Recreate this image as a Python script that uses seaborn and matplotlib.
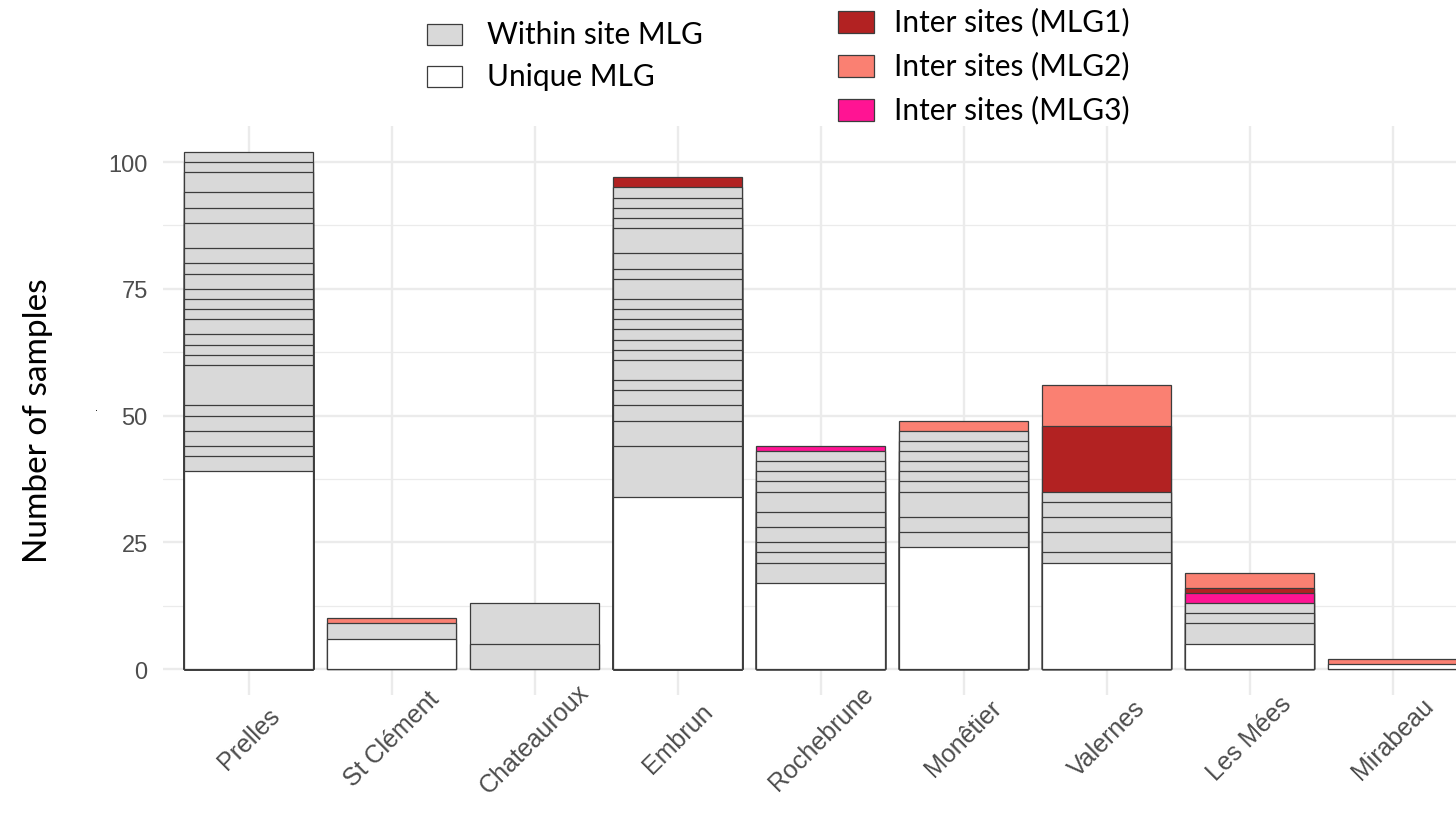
import matplotlib
matplotlib.use("Agg")
import matplotlib.pyplot as plt
from matplotlib.patches import Rectangle
import seaborn as sns
import pandas as pd
import numpy as np

# ---------------- data ----------------
sites = ["Prelles", "St Clément", "Chateauroux", "Embrun", "Rochebrune",
         "Monêtier", "Valernes", "Les Mées", "Mirabeau"]
unique_mlg = [39, 6, 0, 34, 17, 24, 21, 5, 1]
within_prelles = [3, 2, 3, 3, 2, 8, 2, 2, 2, 3, 2, 2, 2, 3, 2, 3, 5, 3, 3, 4, 2, 2]
within_st_clement = [3]
within_chateauroux = [5, 8]
within_embrun = [10, 5, 3, 3, 2, 4, 2, 2, 2, 2, 2, 2, 4, 2, 3, 5, 2, 2, 2, 2]
within_rochebrune = [4, 2, 2, 3, 3, 4, 2, 2, 2, 2]
within_monetier = [3, 3, 5, 2, 2, 2, 2, 2, 2]
within_valernes = [2, 4, 3, 3, 2]
within_les_mees = [4, 2, 2]
within_mirabeau = []
inter_mlg3 = [0, 0, 0, 0, 1, 0, 0, 2, 0]
inter_mlg1 = [0, 0, 0, 2, 0, 0, 13, 1, 0]
inter_mlg2 = [0, 1, 0, 0, 0, 2, 8, 3, 1]

within_lists = [within_prelles, within_st_clement, within_chateauroux, within_embrun,
                within_rochebrune, within_monetier, within_valernes, within_les_mees,
                within_mirabeau]

fill_order = ["Unique MLG", "Within site MLG", "Inter sites (MLG1)",
              "Inter sites (MLG2)", "Inter sites (MLG3)"]
palette = {"Unique MLG": "#FFFFFF", "Within site MLG": "#D9D9D9",
           "Inter sites (MLG1)": "#B22222", "Inter sites (MLG2)": "#FA8072",
           "Inter sites (MLG3)": "#FF1493"}

rows = []
for i, s in enumerate(sites):
    segs = [("Unique MLG", unique_mlg[i])]
    segs += [("Within site MLG", w) for w in within_lists[i]]
    segs += [("Inter sites (MLG3)", inter_mlg3[i]),
             ("Inter sites (MLG1)", inter_mlg1[i]),
             ("Inter sites (MLG2)", inter_mlg2[i])]
    top = 0
    k = 0
    for f, c in segs:
        if c <= 0:
            continue
        top += c
        rows.append({"site": s, "layer": k, "fill": f, "top": top})
        k += 1
df = pd.DataFrame(rows)

# ---------------- figure ----------------
sns.set_theme(style="whitegrid")
W, H = 1456, 829
fig = plt.figure(figsize=(W / 100, H / 100), dpi=100)
ax = fig.add_axes([163 / W, (H - 696) / H, (W - 163) / W, (696 - 127) / H])

for k in sorted(df["layer"].unique(), reverse=True):
    sub = df[df["layer"] == k]
    sns.barplot(data=sub, x="site", y="top", hue="fill", order=sites,
                hue_order=fill_order, palette=palette, dodge=False, width=0.9,
                saturation=1, errorbar=None, edgecolor="#3c3c3c", linewidth=0.9,
                legend=False, ax=ax, zorder=3)

ax.set_xlim(-0.6, 8.442)
ax.set_ylim(-5.1, 107.1)
ax.set_yticks([0, 25, 50, 75, 100])
ax.set_yticks([12.5, 37.5, 62.5, 87.5], minor=True)
ax.set_yticklabels(["0", "25", "50", "75", "100"], fontsize=17, color="#4D4D4D",
                   family="Liberation Sans")
ax.set_xticks(range(len(sites)))
ax.set_xticklabels(sites, rotation=45, ha="center", va="center", fontsize=18,
                   color="#4D4D4D", family="Liberation Sans")
ax.tick_params(axis="x", length=0, pad=31)
ax.tick_params(axis="y", length=0, pad=11)
ax.tick_params(axis="y", which="minor", length=0)
ax.set_facecolor("white")
ax.grid(True, which="major", color="#EBEBEB", linewidth=1.7, zorder=0)
ax.grid(True, which="minor", axis="y", color="#EBEBEB", linewidth=0.9, zorder=0)
ax.set_axisbelow(True)
for sp in ax.spines.values():
    sp.set_visible(False)
ax.set_xlabel("")
ax.set_ylabel("Number of samples", fontsize=24, family="Lato", color="black")
ax.yaxis.set_label_coords(-(163 - 53) / (W - 163), (696 - 421) / (696 - 127))

# stray dot in the original
fig.text(96 / W, 1 - 408 / H, ".", fontsize=7, color="black", ha="center", va="center")

# ---------------- legends ----------------
def key(x0, y0, w, h, color):
    fig.add_artist(Rectangle((x0 / W, 1 - (y0 + h) / H), w / W, h / H,
                             transform=fig.transFigure, facecolor=color,
                             edgecolor="#3c3c3c", linewidth=0.9))

left_items = ["Within site MLG", "Unique MLG"]
left_y = [35, 77]
for lab, yc in zip(left_items, left_y):
    key(427, yc - 10, 35, 21, palette[lab])
    fig.text(487 / W, 1 - yc / H, lab, fontsize=21.5, family="Lato",
             ha="left", va="center", color="black")

right_items = ["Inter sites (MLG1)", "Inter sites (MLG2)", "Inter sites (MLG3)"]
right_y = [22, 66, 110]
for lab, yc in zip(right_items, right_y):
    key(838, yc - 10, 36, 22, palette[lab])
    fig.text(894 / W, 1 - yc / H, lab, fontsize=21.5, family="Lato",
             ha="left", va="center", color="black")

fig.savefig("out.png", dpi=100, facecolor="white")
